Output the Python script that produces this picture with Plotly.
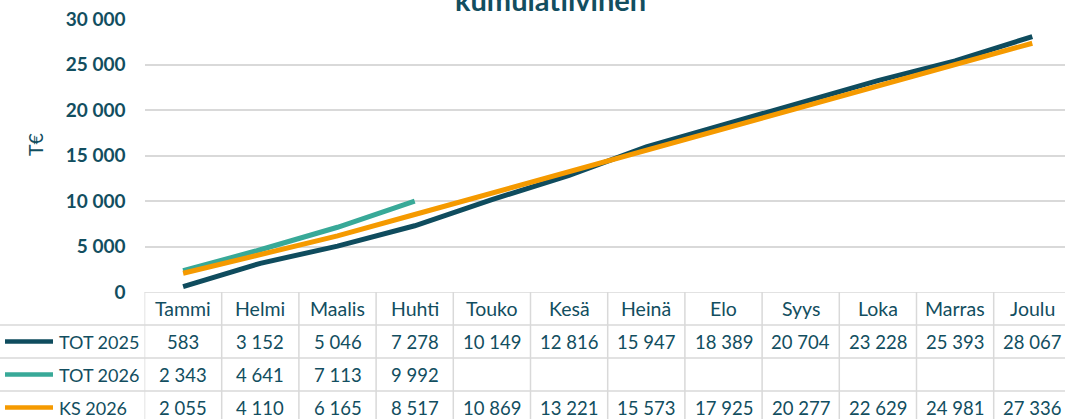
import plotly.graph_objects as go

# ---------------- data ----------------
MONTHS = ["Tammi", "Helmi", "Maalis", "Huhti", "Touko", "Kesä", "Heinä",
          "Elo", "Syys", "Loka", "Marras", "Joulu"]
TOT_2025 = [583, 3152, 5046, 7278, 10149, 12816, 15947, 18389, 20704, 23228, 25393, 28067]
TOT_2026 = [2343, 4641, 7113, 9992, None, None, None, None, None, None, None, None]
KS_2026 = [2055, 4110, 6165, 8517, 10869, 13221, 15573, 17925, 20277, 22629, 24981, 27336]
SERIES_NAMES = ["TOT 2025", "TOT 2026", "KS 2026"]
Y_TICKS = [0, 5000, 10000, 15000, 20000, 25000, 30000]
TITLE = "kumulatiivinen"
Y_TITLE = "T€"

# ---------------- style ----------------
W, H = 1065, 419
FONT = "Lato"
TXT = "#124e60"
GRID = "#d9d9d9"
COLORS = ["#0f4c5e", "#38a998", "#f59a00"]
PLOT_LEFT = 144.5          # px, left edge of plot / table columns
COL_W = 77.2               # px per month column
PLOT_TOP, PLOT_BOTTOM = 19, 292
ROWS_VISIBLE = (H - PLOT_BOTTOM) / 33.0
HS = 19.5                  # header font size
VS = 18.5                  # value font size
LS = 18                    # row label font size

series = [TOT_2025, TOT_2026, KS_2026]
xs = list(range(len(MONTHS)))

fig = go.Figure()
for name, vals, col in zip(SERIES_NAMES, series, COLORS):
    fig.add_trace(go.Scatter(x=xs, y=vals, name=name, mode="lines",
                             line=dict(color=col, width=5),
                             connectgaps=False, hoverinfo="skip"))

def fmt(v):
    return f"{v:,}".replace(",", " ")

ann = []
# month header
for i, m in enumerate(MONTHS):
    ann.append(dict(x=i, y=0.5, xref="x", yref="y2", text=m, showarrow=False,
                    font=dict(family=FONT, size=HS, color=TXT)))
# values
for r, vals in enumerate(series):
    for i, v in enumerate(vals):
        if v is None:
            continue
        ann.append(dict(x=i, y=r + 1.5, xref="x", yref="y2", text=fmt(v), showarrow=False,
                        font=dict(family=FONT, size=VS, color=TXT)))
# row labels
for r, name in enumerate(SERIES_NAMES):
    ann.append(dict(x=57 / W, y=r + 1.5, xref="paper", yref="y2", text=name,
                    xanchor="left", showarrow=False,
                    font=dict(family=FONT, size=LS, color=TXT)))
# title & axis title
ann.append(dict(x=550 / W, y=1 - 19 / H, xref="paper", yref="paper", text=f"<b>{TITLE}</b>",
                xanchor="center", yanchor="bottom", showarrow=False,
                font=dict(family=FONT, size=29, color=TXT)))
ann.append(dict(x=35 / W, y=1 - 145 / H, xref="paper", yref="paper", text=Y_TITLE,
                textangle=-90, xanchor="center", yanchor="middle", showarrow=False,
                font=dict(family=FONT, size=HS, color=TXT)))

shapes = []
n = len(MONTHS)
# vertical table lines
for i in range(n + 1):
    shapes.append(dict(type="line", xref="x", yref="y2", x0=i - 0.5, x1=i - 0.5,
                       y0=0, y1=ROWS_VISIBLE + 0.2, line=dict(color=GRID, width=1.5), layer="below"))
# horizontal table lines
shapes.append(dict(type="line", xref="x", yref="y2", x0=-0.5, x1=n, y0=0, y1=0,
                   line=dict(color=GRID, width=1.5), layer="below"))
for r in range(1, 4):
    shapes.append(dict(type="line", xref="paper", yref="y2", x0=0, x1=1, y0=r, y1=r,
                       line=dict(color=GRID, width=1.5), layer="below"))
# legend keys
for r, col in enumerate(COLORS):
    shapes.append(dict(type="line", xref="paper", yref="y2", x0=5 / W, x1=53 / W,
                       y0=r + 1.5, y1=r + 1.5, line=dict(color=col, width=4.5)))

x_end = -0.5 + (W - PLOT_LEFT) / COL_W
fig.update_layout(
    template="none",
    width=W, height=H,
    margin=dict(l=0, r=0, t=0, b=0, pad=0, autoexpand=False),
    paper_bgcolor="white", plot_bgcolor="white",
    showlegend=False,
    separators=", ",
    font=dict(family=FONT, color=TXT),
    xaxis=dict(domain=[PLOT_LEFT / W, 1], range=[-0.5, x_end], showgrid=False,
               showticklabels=False, zeroline=False, showline=False, ticks="",
               automargin=False, fixedrange=True),
    yaxis=dict(domain=[(H - PLOT_BOTTOM) / H, (H - PLOT_TOP) / H], range=[0, 30000],
               tickvals=Y_TICKS, tickformat=",d", showgrid=True, gridcolor=GRID, gridwidth=1.5,
               zeroline=False, showline=False, ticks="", ticklabelstandoff=18,
               tickfont=dict(family=FONT, size=19, color=TXT, weight="bold"),
               automargin=False, fixedrange=True),
    yaxis2=dict(domain=[0, (H - PLOT_BOTTOM) / H], range=[ROWS_VISIBLE, 0], anchor="x",
                showgrid=False, showticklabels=False, zeroline=False, showline=False,
                automargin=False, fixedrange=True),
    annotations=ann,
    shapes=shapes,
)

fig.write_html("out.html", config={"displayModeBar": False},
               post_script="document.body.style.margin='0';document.body.style.overflow='hidden';")
